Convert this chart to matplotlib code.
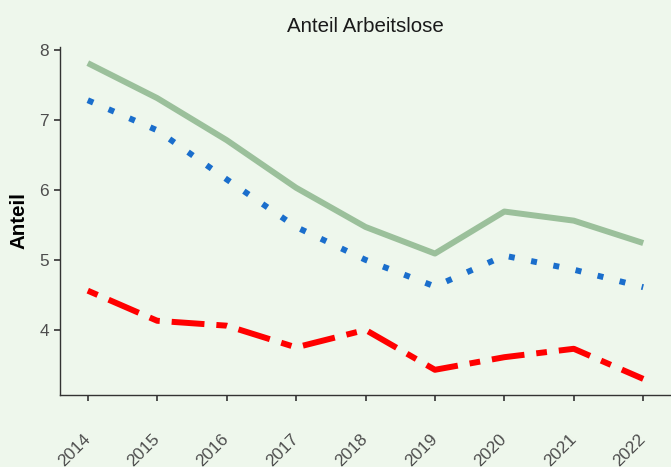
import matplotlib
matplotlib.use("Agg")
import matplotlib.pyplot as plt

# data
years = [2014, 2015, 2016, 2017, 2018, 2019, 2020, 2021, 2022]
anteil_gruen = [7.81, 7.31, 6.71, 6.03, 5.47, 5.09, 5.69, 5.56, 5.24]
anteil_blau = [7.28, 6.85, 6.15, 5.47, 5.00, 4.62, 5.06, 4.86, 4.61]
anteil_rot = [4.56, 4.13, 4.06, 3.75, 4.00, 3.43, 3.61, 3.73, 3.30]

bg = "#eef7ec"
plt.rcParams["font.family"] = ["Liberation Sans", "DejaVu Sans"]

fig = plt.figure(figsize=(6.71, 4.67), dpi=100, facecolor=bg)
ax = fig.add_axes([60 / 671, 1 - 395 / 467, 1 - 60 / 671, (395 - 47) / 467])
ax.set_facecolor(bg)

lw = 4.3
ax.plot(years, anteil_gruen, color="#9bc09b", lw=lw, solid_capstyle="butt")
ax.plot(years, anteil_blau, color="#1a6ecc", lw=lw,
        linestyle=(0, (1, 2.8)), dash_capstyle="butt")
ax.plot(years, anteil_rot, color="#ff0000", lw=lw,
        linestyle=(7.5, (5.5, 2.0, 1.8, 2.0)), dash_capstyle="butt")

ax.set_xlim(2013.6, 2022.4)
ax.set_ylim(3.07, 8.04)
ax.set_xticks(years)
ax.set_xticklabels([str(y) for y in years], rotation=45, ha="right",
                   va="center", rotation_mode="anchor")
ax.set_yticks([4, 5, 6, 7, 8])

for side in ["top", "right"]:
    ax.spines[side].set_visible(False)
for side in ["left", "bottom"]:
    ax.spines[side].set_color("#333333")
    ax.spines[side].set_linewidth(1.0)

ax.tick_params(axis="both", colors="#333333", labelcolor="#4d4d4d",
               labelsize=12.4, length=4, width=1.2)
ax.tick_params(axis="x", pad=26)
ax.tick_params(axis="y", pad=4)

ax.set_title("Anteil Arbeitslose", fontsize=14.8, color="#1a1a1a", pad=11)
ax.set_ylabel("Anteil", fontsize=14.8, fontweight="bold", labelpad=8)

fig.savefig("out.png", dpi=100, facecolor=bg)
